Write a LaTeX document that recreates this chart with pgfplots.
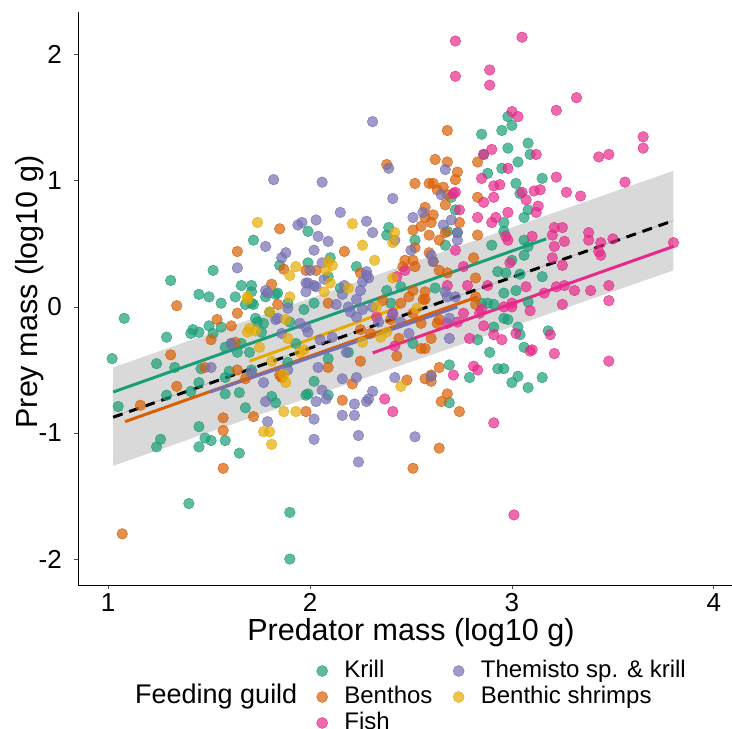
\documentclass[border=0pt]{standalone}
\usepackage{pgfplots}
\pgfplotsset{compat=1.18}
\usepackage{fontspec}
\setmainfont{Liberation Sans}
\definecolor{kr}{HTML}{1B9E77}
\definecolor{be}{HTML}{D95F02}
\definecolor{fi}{HTML}{E7298A}
\definecolor{th}{HTML}{7570B3}
\definecolor{sh}{HTML}{E6AB02}
\definecolor{rib}{HTML}{D9D9D9}
\begin{document}
\begin{tikzpicture}
\useasboundingbox (-78bp,-144bp) rectangle (654bp,585bp);
\begin{axis}[
  at={(0,0)}, anchor=south west,
  scale only axis, width=654bp, height=573bp,
  xmin=0.851, xmax=4.09, ymin=-2.206, ymax=2.34,
  axis x line*=bottom, axis y line*=left,
  axis line style={line width=0.9bp, black},
  tick align=outside, major tick length=4bp,
  tick style={line width=0.8bp, black!70},
  xtick={1,2,3,4}, xticklabels={1,2,3,4},
  ytick={-2,-1,0,1,2}, yticklabels={-2,-1,0,1,2},
  /pgf/number format/assume math mode=true,
  ticklabel style={font=\fontsize{26bp}{30bp}\selectfont, inner sep=0pt},
  xticklabel shift=4bp, yticklabel shift=12bp,
  xlabel={Predator mass (log10 g)}, ylabel={Prey mass (log10 g)},
  label style={font=\fontsize{30.5bp}{36bp}\selectfont},
  xlabel style={at={(axis description cs:0.509,-0.0977)}, anchor=base, inner sep=0pt},
  ylabel style={at={(axis description cs:-0.0734,0.5113)}, anchor=center, inner sep=0pt},
  legend columns=2,
  legend cell align=left,
  legend style={draw=none, fill=none, inner sep=0pt, outer sep=0pt,
    at={(0.3639,-0.1274)}, anchor=north west,
    font=\fontsize{24bp}{28bp}\selectfont,
    nodes={inner xsep=0pt, inner ysep=2bp, text height=17bp, text depth=5bp},
    row sep=0pt,
    /tikz/every even column/.append style={column sep=20bp}},
  legend image code/.code={\draw[#1] plot coordinates {(0bp,0bp)}; \path (-6bp,0bp) (22bp,0bp);},
]
% ribbon
\addplot[fill=rib, draw=none, forget plot] coordinates {(1.025,-0.48) (3.80,1.08) (3.80,0.29) (1.025,-1.26)} -- cycle;
\addplot[gray!70, line width=0.5bp, forget plot] coordinates {(1.025,-0.87) (3.80,0.685)};

% Krill
\addplot[only marks, mark=*, mark size=5.3bp, color=kr, mark options={draw=none, fill=kr, fill opacity=0.7}, forget plot] coordinates {
(1.02,-0.41)(1.08,-0.09)(1.05,-0.79)(1.29,-0.24)(1.24,-0.45)(1.33,-0.48)(1.26,-1.05)(1.24,-1.11)(1.29,-0.70)(1.31,0.21)
(1.52,0.29)(1.40,-1.56)(1.45,-0.95)(1.48,-1.04)(1.51,-1.06)(1.45,-1.11)(1.58,-1.06)(1.65,-1.16)(1.90,-1.63)(1.90,-2.0)
(1.41,-0.67)(1.45,-0.60)(1.46,-0.49)(1.58,-0.69)(1.65,-0.68)(1.68,-0.80)(1.58,-0.56)(1.71,-0.50)(1.81,-0.71)(1.83,-0.76)
(1.45,0.10)(1.50,0.08)(1.56,0.03)(1.63,0.08)(1.41,-0.21)(1.45,-0.20)(1.50,-0.15)(1.52,-0.21)(1.56,-0.16)(1.58,-0.32)
(1.61,-0.29)(1.66,-0.29)(1.70,-0.36)(1.64,-0.36)(1.77,-0.13)(1.74,-0.12)(1.80,-0.04)(1.71,0.03)(1.83,0.10)(1.78,0.08)
(1.90,-0.12)(1.93,-0.29)(1.98,-0.70)(1.60,-0.51)(1.72,0.53)(1.85,0.33)(1.66,0.17)(1.71,0.17)(1.71,0.12)(1.68,0.02)
(1.72,0.02)(1.84,0.11)(1.89,0.03)(1.97,-0.02)(1.99,0.60)(1.99,0.35)(1.73,-0.09)(1.89,-0.44)(1.42,-0.18)(1.76,-0.20)
(2.02,-0.59)(1.99,-0.69)(2.09,-0.70)(2.09,-0.41)(2.19,-0.36)(2.02,0.03)(2.10,0.39)(2.09,0.24)(2.23,0.32)(2.15,0.15)
(2.38,0.13)(2.45,0.16)(2.40,0.03)(2.62,0.15)(2.39,0.63)(2.38,0.57)(2.52,0.53)(2.51,-0.29)(2.68,0.60)(2.67,0.49)
(2.70,0.87)(2.72,0.77)(2.73,0.59)(2.69,-0.46)(2.79,-0.56)(2.69,-0.76)(2.83,-0.26)
(2.85,1.37)(2.95,1.40)(2.98,1.51)(3.0,1.44)(2.98,1.26)(3.08,1.30)(3.09,1.21)(2.86,1.21)(2.88,1.06)(2.95,1.10)
(3.03,1.15)(3.02,0.98)(3.04,0.90)(3.08,0.77)(3.06,0.71)(2.96,0.67)(2.96,0.60)(3.15,1.02)(2.90,0.49)(3.06,0.53)
(3.08,0.48)(3.06,0.41)(3.0,0.37)(2.93,0.28)(2.97,0.27)(3.04,0.26)(3.15,0.24)(2.96,0.11)(3.02,0.13)(2.88,0.03)
(2.91,0.02)(3.08,0.04)(2.96,-0.09)(2.98,-0.10)(3.03,-0.16)(3.18,-0.19)(3.04,-0.22)(2.89,-0.36)(3.06,-0.32)(2.93,-0.49)
(2.96,-0.49)(3.03,-0.55)(3.15,-0.56)(3.08,-0.64)(3.0,-0.60)(2.91,-0.16)(2.85,0.03)
};
% Benthos
\addplot[only marks, mark=*, mark size=5.3bp, color=be, mark options={draw=none, fill=be, fill opacity=0.7}, forget plot] coordinates {
(1.07,-1.80)(1.34,0.01)(1.31,-0.38)(1.34,-0.63)(1.16,-0.78)(1.57,-0.88)(1.57,-0.98)(1.57,-1.28)(1.54,-0.10)(1.61,-0.15)
(1.64,-0.05)(1.51,-0.26)(1.72,-0.87)(1.63,-0.28)(1.85,-0.54)(1.64,0.44)(1.85,0.62)(1.81,0.18)(1.87,0.30)(1.98,0.29)
(1.84,0.02)(1.86,-0.56)(1.98,-0.83)(1.64,-0.50)(1.68,-0.57)(1.48,-0.48)(2.17,0.44)(2.03,0.29)(2.57,0.79)(2.61,0.73)
(2.67,0.81)(2.60,0.67)(2.51,0.61)(2.59,0.57)(2.64,0.53)(2.67,0.59)(2.52,0.47)(2.47,0.37)(2.51,0.37)(2.46,0.32)
(2.52,0.32)(2.59,0.43)(2.61,0.36)(2.64,0.29)(2.68,0.27)(2.81,0.39)(2.83,0.57)(2.83,0.87)(2.68,0.89)(2.57,0.12)
(2.51,0.13)(2.49,0.08)(2.56,0.06)(2.45,0.03)(2.82,0.23)(2.82,0.08)(2.68,1.40)(2.62,1.17)(2.68,1.15)(2.73,1.07)
(2.72,1.01)(2.38,1.13)(2.59,0.98)(2.61,0.98)(2.66,0.95)(2.63,0.93)(2.52,0.98)(2.83,1.15)(2.74,0.67)(2.55,0.64)
(2.25,0.27)(2.57,0.71)(2.25,-0.43)(2.21,-0.61)(2.16,-0.74)(2.48,-0.58)(2.57,-0.57)(2.60,-0.54)(2.60,-0.59)(2.64,-0.48)
(2.68,-0.69)(2.65,-0.75)(2.74,-0.83)(2.64,-1.12)(2.51,-1.28)(2.43,-0.39)(2.55,-0.33)(2.57,-0.33)(2.60,-0.25)(2.44,-0.25)
(2.09,-0.48)(2.09,0.03)(2.30,-0.21)(2.25,-0.18)(2.55,-0.13)(2.63,-0.13)(2.51,-0.05)(2.57,0.06)(2.64,-0.10)(2.82,0.02)
(2.36,0.05)(2.40,-0.10)
};
% Fish
\addplot[only marks, mark=*, mark size=5.3bp, color=fi, mark options={draw=none, fill=fi, fill opacity=0.7}, forget plot] coordinates {
(2.72,2.11)(3.05,2.14)(2.72,1.83)(2.89,1.88)(2.89,1.76)(3.32,1.66)(3.22,1.56)(3.0,1.55)(3.03,1.51)(3.65,1.35)
(3.65,1.26)(3.43,1.19)(3.48,1.21)(3.56,0.99)(3.22,1.03)(3.12,1.21)(3.27,0.91)(3.34,0.88)(3.11,0.92)(3.14,0.93)
(3.05,0.91)(3.07,0.85)(3.13,0.80)(3.12,0.75)(2.86,1.21)(2.90,1.25)(2.98,1.10)(2.91,0.96)(2.94,0.97)(2.91,0.87)
(2.86,0.83)(2.98,0.75)(2.90,0.67)(2.92,0.71)(2.85,1.02)(2.72,0.91)(2.74,0.77)(2.83,0.71)(2.72,0.45)(2.47,0.29)
(2.43,0.24)(2.68,0.17)(2.76,0.32)(2.78,0.17)(2.88,0.17)(2.98,0.53)(2.99,0.35)(3.07,0.16)(3.21,0.63)(3.25,0.63)
(3.20,0.57)(3.26,0.52)(3.21,0.48)(3.38,0.59)(3.38,0.53)(3.44,0.51)(3.50,0.54)(3.43,0.44)(3.44,0.41)(3.20,0.39)
(3.25,0.33)(3.10,0.56)(2.97,0.56)(3.80,0.51)(3.16,0.11)(3.22,0.16)(3.26,0.17)(3.31,0.13)(3.39,0.13)(3.48,0.17)
(3.48,0.05)(3.25,0.02)(3.0,0.0)(3.09,-0.03)(2.85,-0.02)(2.91,-0.22)(2.95,-0.26)(3.02,-0.21)(3.10,-0.34)(3.19,-0.22)
(3.09,-0.35)(3.21,-0.37)(3.48,-0.43)(2.79,-0.25)(2.86,-0.15)(2.37,-0.73)(2.41,-0.83)(2.71,-0.54)(2.81,-0.47)(2.83,-0.50)
(2.91,-0.92)(3.01,-1.65)(2.71,0.90)(2.33,-0.08)(2.41,-0.05)(2.42,-0.31)(2.68,-0.13)(2.73,-0.12)(2.76,-0.05)(2.84,-0.05)
(2.96,0.0)(3.0,0.03)
};
% Themisto
\addplot[only marks, mark=*, mark size=5.3bp, color=th, mark options={draw=none, fill=th, fill opacity=0.7}, forget plot] coordinates {
(1.82,1.01)(1.94,0.65)(1.78,0.48)(1.88,0.43)(1.86,0.39)(1.64,0.31)(1.78,0.13)(1.98,0.19)(2.31,1.47)(2.06,0.99)
(2.39,1.10)(2.41,0.86)(2.15,0.75)(2.28,0.68)(2.03,0.69)(2.04,0.56)(2.09,0.52)(2.02,0.45)(1.96,0.67)(2.67,1.09)
(2.65,0.89)(2.51,0.71)(2.56,0.75)(2.66,0.65)(2.70,0.69)(2.73,0.59)(2.42,0.53)(2.31,0.59)(2.28,0.25)(2.26,0.20)
(2.17,0.17)(1.99,0.19)(2.02,0.17)(2.50,0.45)(2.60,0.41)(2.61,0.36)(2.73,0.53)(2.67,0.12)(2.72,0.08)(2.06,0.35)
(2.0,0.29)(2.07,0.22)(1.98,0.12)(2.03,0.16)(2.16,0.10)(2.23,0.06)(2.29,0.23)(2.28,0.28)(2.25,0.13)(2.13,0.02)
(2.20,-0.04)(2.26,-0.02)(2.31,0.0)(2.34,-0.12)(2.41,-0.06)(2.45,-0.12)(2.68,0.08)(2.69,-0.09)(2.16,-0.57)(2.23,-0.56)
(2.03,-0.75)(2.06,-0.66)(2.08,-0.73)(2.22,-0.77)(2.31,-0.67)(2.29,-0.73)(2.28,-0.75)(2.22,-0.86)(2.16,-0.86)(2.02,-0.89)
(2.02,-1.05)(2.24,-1.02)(2.24,-1.23)(2.52,-1.03)(2.42,-0.56)(2.60,-0.55)(2.49,-0.21)(2.69,-0.25)(2.18,-0.36)(2.11,-0.24)
(2.05,-0.26)(2.04,-0.48)(1.99,-0.20)(2.19,0.0)(2.23,-0.08)(1.51,-0.48)(1.61,-0.29)(1.71,-0.52)(1.77,-0.60)(1.78,-0.75)
(1.79,-0.91)(1.89,-0.50)(1.98,-0.16)(1.83,-0.10)(1.86,-0.21)(1.89,-0.01)(1.84,-0.09)(1.79,0.11)(1.95,-0.13)
};
% Benthic shrimps
\addplot[only marks, mark=*, mark size=5.3bp, color=sh, mark options={draw=none, fill=sh, fill opacity=0.7}, forget plot] coordinates {
(1.74,0.67)(1.93,0.32)(1.90,0.25)(1.90,0.08)(1.69,0.08)(1.69,0.06)(1.80,-0.04)(1.88,-0.10)(1.70,-0.17)(2.21,0.66)
(2.26,0.49)(2.32,0.37)(2.42,0.59)(2.41,0.51)(2.09,0.36)(2.11,0.33)(2.08,0.29)(2.10,0.19)(2.07,0.12)(2.19,0.15)
(2.41,0.23)(1.69,-0.20)(1.73,-0.19)(1.75,-0.32)(1.81,-0.43)(1.87,-0.54)(1.88,-0.60)(1.87,-0.83)(1.93,-0.83)(1.77,-0.99)
(1.80,-0.99)(1.81,-1.09)(1.95,-0.36)(1.97,-0.34)(1.89,-0.25)(2.45,-0.63)(2.26,-0.28)(2.35,-0.24)(2.38,-0.20)(2.33,0.0)
(2.53,-0.01)
};

% group fits
\addplot[kr, line width=3bp, forget plot] coordinates {(1.025,-0.675) (3.17,0.54)};
\addplot[be, line width=3bp, forget plot] coordinates {(1.084,-0.91) (2.83,0.08)};
\addplot[th, line width=3bp, forget plot] coordinates {(1.505,-0.675) (2.73,0.0)};
\addplot[sh, line width=3bp, forget plot] coordinates {(1.70,-0.43) (2.445,0.0)};
\addplot[fi, line width=3bp, forget plot] coordinates {(2.31,-0.365) (3.80,0.48)};
\addplot[black, line width=3bp, dash pattern=on 10bp off 7bp, forget plot] coordinates {(1.025,-0.875) (3.80,0.685)};

% legend (row-major for two columns)
\addlegendimage{only marks, mark=*, mark size=5.5bp, color=kr, mark options={draw=none, fill=kr, fill opacity=0.7}}
\addlegendentry{Krill}
\addlegendimage{only marks, mark=*, mark size=5.5bp, color=th, mark options={draw=none, fill=th, fill opacity=0.7}}
\addlegendentry{Themisto sp. \& krill}
\addlegendimage{only marks, mark=*, mark size=5.5bp, color=be, mark options={draw=none, fill=be, fill opacity=0.7}}
\addlegendentry{Benthos}
\addlegendimage{only marks, mark=*, mark size=5.5bp, color=sh, mark options={draw=none, fill=sh, fill opacity=0.7}}
\addlegendentry{Benthic shrimps}
\addlegendimage{only marks, mark=*, mark size=5.5bp, color=fi, mark options={draw=none, fill=fi, fill opacity=0.7}}
\addlegendentry{Fish}
\end{axis}
\node[anchor=west, inner sep=0pt, font=\fontsize{27bp}{32bp}\selectfont] at (57bp,-112bp) {Feeding guild};
\end{tikzpicture}
\end{document}
